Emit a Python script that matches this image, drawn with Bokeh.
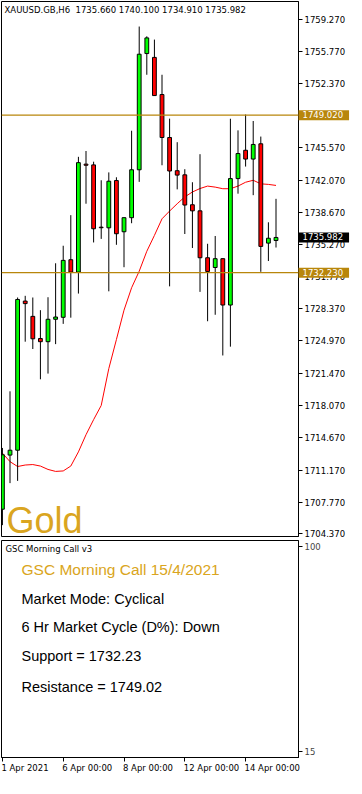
from bokeh.plotting import figure
from bokeh.layouts import column
from bokeh.models import FixedTicker, Span, Label, ColumnDataSource, Range1d, PrintfTickFormatter
from bokeh.embed import file_html
from bokeh.resources import INLINE

header_text = "XAUUSD.GB,H6\u00a0 1735.660 1740.100 1734.910 1735.982"

opens = [1707.01, 1712.78, 1713.30, 1729.20, 1727.57, 1725.21, 1724.87, 1727.26, 1727.47, 1733.61,
         1732.29, 1743.80, 1743.72, 1737.08, 1737.01, 1742.05, 1736.59, 1738.09, 1743.20, 1755.59,
         1755.18, 1751.22, 1746.64, 1743.10, 1742.66, 1739.47, 1738.82, 1733.82, 1732.78, 1733.72,
         1728.78, 1742.26, 1745.28, 1744.34, 1745.97, 1735.38, 1735.66]
highs = [1713.54, 1719.58, 1729.58, 1729.76, 1729.58, 1728.23, 1729.61, 1733.23, 1735.10, 1738.36,
         1744.58, 1745.20, 1744.06, 1742.08, 1742.92, 1742.40, 1738.12, 1747.36, 1758.47, 1757.43,
         1757.08, 1753.33, 1748.65, 1746.14, 1743.26, 1741.87, 1744.86, 1735.31, 1736.14, 1733.75,
         1748.64, 1747.40, 1749.09, 1748.40, 1746.74, 1737.60, 1740.10]
lows = [1705.31, 1709.79, 1710.03, 1724.87, 1724.09, 1720.86, 1721.47, 1724.61, 1726.77, 1727.43,
        1730.00, 1739.58, 1735.45, 1735.83, 1730.24, 1735.20, 1732.81, 1737.50, 1741.91, 1753.33,
        1751.10, 1743.68, 1730.77, 1741.11, 1736.35, 1734.86, 1730.18, 1727.05, 1727.74, 1723.40,
        1724.34, 1740.65, 1743.54, 1740.49, 1732.32, 1733.47, 1734.91]
closes = [1712.81, 1713.30, 1729.37, 1728.93, 1725.18, 1724.87, 1727.26, 1727.50, 1733.54, 1732.29,
          1743.96, 1743.68, 1736.91, 1737.02, 1741.98, 1736.38, 1738.09, 1743.20, 1755.52, 1757.26,
          1751.11, 1746.64, 1743.07, 1742.63, 1739.44, 1738.82, 1733.82, 1732.36, 1733.72, 1728.78,
          1742.26, 1744.93, 1744.34, 1745.90, 1735.03, 1735.90, 1735.982]
ma_values = [1712.99, 1712.08, 1711.56, 1711.72, 1711.77, 1711.61, 1711.25, 1711.04, 1711.09, 1711.61,
             1713.12, 1714.95, 1716.56, 1718.07, 1722.00, 1725.10, 1728.23, 1730.62, 1732.39, 1734.51,
             1736.20, 1737.97, 1738.80, 1739.58, 1740.31, 1740.83, 1741.20, 1741.46, 1741.35, 1741.18,
             1741.18, 1741.46, 1741.87, 1742.08, 1741.70, 1741.64, 1741.53]

price_ticks = [1759.27, 1755.77, 1752.37, 1749.02, 1745.57, 1742.07, 1738.67, 1735.27, 1731.77,
               1728.37, 1724.97, 1721.47, 1718.07, 1714.67, 1711.17, 1707.77, 1704.37]
support = 1732.23
resistance = 1749.02
last_price = 1735.982

date_ticks = [0, 8, 16, 24, 32]
date_labels = ["1 Apr 2021", "6 Apr 00:00", "8 Apr 00:00", "12 Apr 00:00", "14 Apr 00:00"]

panel_ticks = [100, 15]
panel_name = "GSC Morning Call v3"
panel_title = "GSC Morning Call 15/4/2021"
panel_lines = ["Market Mode: Cyclical", "6 Hr Market Cycle (D%): Down",
               "Support = 1732.23", "Resistance = 1749.02"]

GOLD_LINE = "#B8860B"
GOLD_TEXT = "#DAA520"
SMALL_FONT = "DejaVu Sans"
SMALL_SIZE = "8.5px"

FW = 297
MAIN_H = 535
PANEL_H = 217
X0, X1 = -0.12, 38.96
Y0, Y1 = 1704.10, 1761.14

xs = list(range(len(opens)))
tops = [max(o, c) for o, c in zip(opens, closes)]
bottoms = [min(o, c) for o, c in zip(opens, closes)]
colors = ["#00FF00" if c > o else "#FF0000" for o, c in zip(opens, closes)]
src = ColumnDataSource(dict(x=xs, high=highs, low=lows, top=tops, bottom=bottoms, color=colors))

x_range = Range1d(X0, X1)

# ---------------- main price chart ----------------
p = figure(frame_width=FW, frame_height=MAIN_H, x_range=x_range, y_range=Range1d(Y0, Y1),
           x_axis_location=None, y_axis_location="right", output_backend="svg",
           toolbar_location=None, min_border_left=1, min_border_right=48,
           min_border_top=1, min_border_bottom=3)
p.background_fill_color = "white"
p.border_fill_color = "white"
p.outline_line_color = "black"
p.outline_line_width = 1
p.grid.visible = False

ax = p.yaxis[0]
ax.ticker = FixedTicker(ticks=price_ticks)
ax.formatter = PrintfTickFormatter(format="%.3f")
ax.major_label_text_font = SMALL_FONT
ax.major_label_text_font_size = SMALL_SIZE
ax.major_label_text_color = "black"
ax.major_tick_out = 4
ax.major_tick_in = 0
ax.minor_tick_out = 0
ax.minor_tick_in = 0
ax.major_label_standoff = 2
ax.axis_line_color = "black"

p.add_layout(Span(location=resistance, dimension="width", line_color=GOLD_LINE, line_width=1.2))
p.add_layout(Span(location=support, dimension="width", line_color=GOLD_LINE, line_width=1.2))

p.line(xs, ma_values, line_color="#FF0000", line_width=1)
p.segment(x0="x", y0="low", x1="x", y1="high", source=src, line_color="black", line_width=1)
p.vbar(x="x", width=0.5, top="top", bottom="bottom", source=src, fill_color="color",
       line_color="black", line_width=1)

p.add_layout(Label(x=3, y=MAIN_H - 8, x_units="screen", y_units="screen", text=header_text,
                   text_font=SMALL_FONT, text_font_size=SMALL_SIZE, text_color="black",
                   text_baseline="middle", text_align="left"))
p.add_layout(Label(x=5, y=16, x_units="screen", y_units="screen", text="Gold",
                   text_font="Liberation Sans", text_font_size="36px", text_color=GOLD_TEXT,
                   text_baseline="alphabetic", text_align="left"))

# price boxes in the right axis strip (side panel, so not clipped to the frame)
for val, bg in [(resistance, GOLD_LINE), (support, GOLD_LINE), (last_price, "black")]:
    p.add_layout(Label(x=X1, y=val, x_units="data", y_units="data", text="%.3f" % val,
                       x_offset=0, text_font=SMALL_FONT, text_font_size=SMALL_SIZE,
                       text_color="white", background_fill_color=bg, text_baseline="middle",
                       text_align="left", padding=dict(left=4, right=6, top=1, bottom=2)), "right")

# ---------------- indicator panel ----------------
q = figure(frame_width=FW, frame_height=PANEL_H, x_range=x_range, y_range=Range1d(12.5, 102.5),
           y_axis_location="right", output_backend="svg", toolbar_location=None,
           min_border_left=1, min_border_right=48, min_border_top=1, min_border_bottom=21)
q.background_fill_color = "white"
q.border_fill_color = "white"
q.outline_line_color = "black"
q.grid.visible = False

qy = q.yaxis[0]
qy.ticker = FixedTicker(ticks=panel_ticks)
qy.major_label_text_font = SMALL_FONT
qy.major_label_text_font_size = SMALL_SIZE
qy.major_tick_out = 4
qy.major_tick_in = 0
qy.minor_tick_out = 0
qy.minor_tick_in = 0
qy.major_label_standoff = 2
qy.axis_line_color = "black"

qx = q.xaxis[0]
qx.ticker = FixedTicker(ticks=date_ticks)
qx.major_label_overrides = {t: "" for t in date_ticks}
qx.major_tick_out = 4
qx.major_tick_in = 0
qx.minor_tick_out = 0
qx.minor_tick_in = 0
qx.axis_line_color = "black"

for t, lab in zip(date_ticks, date_labels):
    q.add_layout(Label(x=t, y=12.5, x_units="data", y_units="data", text=lab, y_offset=-5,
                       x_offset=-1, text_font=SMALL_FONT, text_font_size=SMALL_SIZE,
                       text_color="black", text_baseline="top", text_align="left"), "below")

q.add_layout(Label(x=4, y=PANEL_H - 8, x_units="screen", y_units="screen", text=panel_name,
                   text_font=SMALL_FONT, text_font_size=SMALL_SIZE, text_color="black",
                   text_baseline="middle", text_align="left"))
q.add_layout(Label(x=20, y=PANEL_H - 29, x_units="screen", y_units="screen", text=panel_title,
                   text_font="Liberation Sans", text_font_size="15.5px", text_color=GOLD_TEXT,
                   text_baseline="middle", text_align="left"))
for k, line in enumerate(panel_lines):
    offs = [58, 86.5, 115, 146][k]
    q.add_layout(Label(x=20, y=PANEL_H - offs, x_units="screen", y_units="screen", text=line,
                       text_font="Liberation Sans", text_font_size="14.5px", text_color="black",
                       text_baseline="middle", text_align="left"))

layout = column(p, q, spacing=0)
open("out.html", "w").write(file_html(layout, INLINE))
